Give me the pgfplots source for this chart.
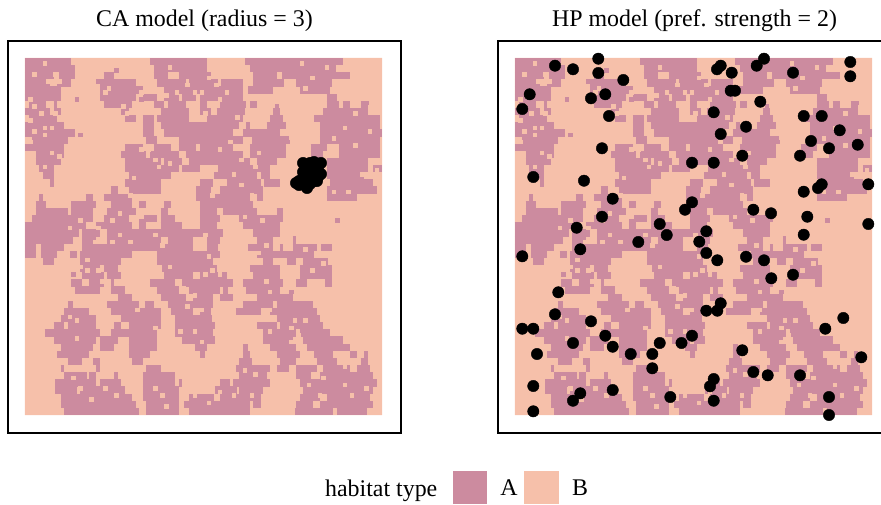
\documentclass[border=0pt]{standalone}
\usepackage{pgfplots}
\usepackage{pgfplotstable}
\usepackage{fontspec}
\setmainfont{Liberation Serif}
\pgfplotsset{compat=1.18}
\definecolor{habA}{HTML}{CC8B9F}
\definecolor{habB}{HTML}{F6C0AA}
% runs of habitat A: start column, row, length (cells from the top left)
\pgfplotstableread{
x y w
0 1 13
35 1 16
61.6 1 27.4
0 3 14
36 3 15
63 3 24
0 5 8
9.5 5 4.5
22 5 3
36 5 4
43 5 9
64 5 6.5
72 5 19
0 7 7
9 7 4
21 7 10
37 7 8
46 7 8
55 7 6
64 7 8.5
76 7 10
0 9 10
21 9 12
39 9 22
62.5 9 7
77 9 8.5
0 11 10
21 11 10
33 11 4
39 11 4
44 11 4
49 11 12
84.5 11 3
1 13 5
8 13 1
22 13 8
36 13 3
40 13 5
49 13 2
54.6 13 7.4
63 13 2
84.5 13 3.5
89 13 2
94 13 2
0 15 7
8 15 2
27 15 2
38 15 8
49 15 3
53.7 15 7.9
69.5 15 2
83.5 15 12.5
1 17 8
28 17 3
33 17 3
37 17 9
51 17 10
68.6 17 3.8
81 17 18.5
0 19 11
33 19 3
38 19 22
62 19 1
67.7 19 5.3
82.6 19 16.9
0 21 14
33 21 3
39 21 19.3
61 21 10.4
82.6 21 17.4
2 23 10
34 23 3
43 23 18
63.5 23 10.5
82.6 23 16.9
0 25 11
28 25 5
36 25 5
43 25 5
49 25 9.3
63 25 10
80 25 4.5
88 25 11.5
3 27 8
27 27 7
35 27 8
45 27 16
63 27 10
80 27 3.6
88 27 11.5
3 29 7
28 29 10
39 29 5
46 29 17
65 29 5.5
84.5 29 11.5
4 31 4
28 31 15
44 31 5
54 31 14.6
84.5 31 11.5
97.5 31 2.5
5 33 3
29 33 12
53 33 12
66 33 2.6
84.5 33 10.5
7 35 1
28 35 10
49 35 3.7
56.5 35 9.5
67 35 4.4
85.5 35 12.1
24 37 2
29 37 9
48 37 4
54.6 37 12.2
84.5 37 14
4 39 1
17 39 2
22 39 8
48 39 15
65 39 1.8
84.5 39 8.5
3 41 3
13 41 7
24 41 6
32 41 2
39 41 2
49 41 15
3 43 9
13 43 6
23 43 8
38 43 2
49 43 4.7
55.5 43 9.5
70.5 43 1.9
2 45 17
22 45 7
32 45 5
38 45 4
49 45 5.6
60 45 12.4
0 47 17
20 47 10
32 47 2
38 47 6
49 47 4.7
61 47 10.4
0 49 15
16 49 5
23 49 32.5
64 49 7.4
0 51 13.5
16 51 4
23 51 15
40 51 7
51 51 3.6
65 51 4.5
75 51 1
0 53 3
4.5 53 6.5
16 53 31
51 53 3
62.5 53 7
71.4 53 1
75 53 6.7
83 53 3
0 55 3
4.5 55 4.5
12.5 55 2
15.5 55 14.5
37 55 17.6
65 55 16
5 57 3
15.5 57 11.5
37 57 15.7
66.8 57 2.7
73.3 57 2.7
78 57 7
15.5 59 5.5
22 59 4
38.5 59 15.2
63 59 8.4
77 59 9
16 61 6
23 61 4
39 61 8
49 61 7.5
64 61 7.4
77 61 9
13 63 3
18 63 4
24 63 1
35 63 7
44 63 14.3
61 63 11.4
76 63 3
84 63 2
14 65 7
24 65 4
37 65 6
46 65 8.6
55.5 65 1.5
62 65 9.4
26 67 4
38 67 7
47 67 5.7
54.6 67 3.7
65 67 10
12 69 1.5
23 69 9
33.5 69 2.5
40 69 12.7
61 69 8.5
70.5 69 10.3
11 71 7
24 71 14
41 71 6
49 71 3
59 71 7
68.6 71 13.1
10 73 10
27 73 11
42 73 10.3
70.5 73 12.1
8 75 3
12 75 8
25 75 2
29 75 9
42 75 11.2
65 75 5.5
71.4 75 12.2
5.5 77 15.5
24 77 13
42 77 10.7
66.8 77 9.2
77 77 8.4
8 79 12
21 79 5
29 79 8
44 79 9.2
66.8 79 8.2
78 79 11
10 81 9
21 81 4
29 81 8
47.5 81 3.5
61 81 1.5
68.6 81 7.4
79 81 12
9 83 9
29 83 6
49 83 1.4
61 83 2
70.5 83 6.5
81 83 5.4
91 83 2
95 83 1
12 85 4
19 85 2
30 85 3
60 85 3.5
71.4 85 4.6
81.7 85 5.6
94 85 2
10 87 1
20 87 1
34 87 4
59 87 9.6
70.5 87 3.5
76 87 5.7
83.6 87 7.4
93 87 3.7
11 89 6.5
18 89 2
25 89 1
33 89 9
60 89 7.7
76 89 4
82.6 89 15
8.5 91 11.5
21 91 6
33 91 9
43 91 1
54.6 91 2.8
58.3 91 10.3
77 91 21.5
8.5 93 6
15.5 93 12.5
33 93 10
53.2 93 6.1
60 93 6.8
78 93 19.6
10 95 20
33 95 10
46 95 7
54.6 95 11.4
77 95 5.6
84.5 95 12.2
10 97 21
34 97 9
44.5 97 18.5
64 97 2
76 97 4.8
82.6 97 15
11 99 21
34 99 9
46 99 17
75.6 99 10.8
87.3 99 8.4
}\runs
% single cells of habitat B inside the runs (column, row)
\pgfplotstableread{
c r
5.6 1.7
2.3 4.8
6.5 6.6
8.7 4.8
9.8 6.2
1.4 11.8
2.8 13.6
4.2 15
7.9 13.6
8.9 15.5
1.4 17.9
2.8 20.2
5.1 19.4
7.9 19.4
5.6 21.6
1.4 23
9.3 27.7
7 26.7
5.1 30.5
23.4 8
22 9.9
27.6 13.6
28.5 15.5
32.2 9.9
40.7 2
45.3 7.1
42.5 9
47.2 9.9
39.7 10.8
34.6 25.3
32.2 25.8
36 28.6
37.9 30.5
40.7 29.5
30.8 33.3
29.9 38.9
34.1 41.7
32.2 44.5
26.6 43.6
24.8 45.4
20 47.3
15.4 45.4
12.6 47.3
37.9 43.6
51.8 5.7
53.7 7.1
57.4 4.8
49.9 9
56.5 9
52.7 12.7
54.6 11.8
50.9 15.5
59.3 16.4
57.4 23
54.6 25.8
62 23
60.2 28.6
65.8 26.7
64 30.5
58.3 32.3
60.2 35.1
52.7 38.9
63 38.9
66.8 45.4
61.1 44.5
77 1.5
80.8 5.2
84.5 2
78.9 8
86.4 22.5
85.4 25.8
89.2 19.3
92.9 15.5
96.7 20.2
92.9 24.9
86.4 37
90.1 37
94.8 32.3
98.5 31.4
24.8 51.5
29.4 51.5
19.6 51.5
26.6 49.6
36.9 49.6
15.4 58
17.3 59.9
20 59.9
17.3 56.2
21 62.7
31.3 55.2
38.8 52.4
40.7 58
42.5 62.7
44.4 64.6
47.2 66.5
45.3 69.3
49.1 70.2
12.6 72
14.5 73.9
14.5 78.6
31.3 70.2
36 75.8
43.5 76.7
47.2 76.7
49.1 79.5
13.6 89.8
15.4 92.6
18.2 95.4
22.9 92.6
25.7 94.5
36 92.6
38.8 94.5
39.7 97.3
47.7 94.5
50.9 49.6
51.8 55.2
50.4 60.8
52.7 59.9
54.6 60.8
67.7 52.4
65.8 54.3
78 53.4
80.8 51.5
80.8 59
83.6 57.1
67.7 62.7
68.6 65.5
68.6 70.2
78.9 73
75.2 73.9
68.6 76.7
74.2 75.8
76.1 77.7
74.2 79.5
78 83.3
89.2 86.1
89.2 91.7
83.6 89.8
79.8 91.7
82.6 94.5
91.1 94.5
95.7 92.6
63 94.5
58.3 94.5
54.6 93.6
51.8 96.4
64 88
61.1 87
}\holes
% single cells of habitat A outside the runs (column, row)
\pgfplotstableread{
c r
25 3.8
20.5 6.6
13.6 60.5
12.6 68
70.5 13.6
95.7 12.2
74.2 65.5
32 11.5
14 11
15 21
50.5 40
73 23
87 45
}\specks
% points of the CA model, in image position
\pgfplotstableread{
px py
303 163
310 163
314 162
321 163
307 167
314 167
318 170
310 170
303 172
307 174
314 174
321 174
318 177
303 178
310 178
314 181
299 181
296 183
303 184
310 184
307 188
299 185
317 181
}\caPts
% points of the HP model, in image position
\pgfplotstableread{
px py
598.3 58.7
555 65.7
573 69.3
598.3 73
623.3 80
529.7 94.3
605.3 94.3
591 98.3
522.3 109
609 116
602 148.3
533.3 177
584 180.7
612.7 198.7
602 216.7
576.7 227.7
659.7 224
666.7 235
638.3 242
764 58.7
850.3 62
756.7 65.7
720.7 65.7
717 69.3
731.7 72.7
793 72.7
850.3 76.3
730.7 90.7
735 90.7
760.3 101.7
713.7 112.3
803.7 116
821.7 116
746 126.7
839.7 130.3
720.7 134
811 141
829 148.3
857.7 144.7
742.3 155.7
800 155.7
692 162.7
713.7 162.7
868.3 184.3
821.7 184.3
818 188
803.7 191.7
692 202.3
685 209.7
753.3 209.7
771 213.3
807.3 216.7
868.3 224
706.3 231.3
803.7 234.7
699.3 241.7
580.3 249.3
522.3 256.3
558.3 292.3
555 314.3
591 321.3
522.3 328.7
533.3 328.7
605.3 335.7
573 343
612.7 346.7
659.7 343
681.5 343
692 335.7
537 354
630.7 354
652.3 354
652.3 368.3
533.3 386
612.7 390
580.3 393.3
573 400.7
670.3 397
533.3 411.3
706.3 253
746 256.7
764 260.3
717.3 260.3
771.3 278.3
793 274.7
720.7 303.3
717.3 310.7
706.3 310.7
843.3 318
825.3 328.7
742.3 350.3
861.3 357.3
753.3 372
767.7 375.3
800 375.3
713.7 379
710 386.3
829 397
713.7 400.7
829 415
}\hpPts
\pgfplotsset{panel/.style={
  scale only axis, width=393pt, height=392pt,
  xmin=-4.76, xmax=105.32, ymin=-4.76, ymax=105.04, y dir=reverse,
  xtick=\empty, ytick=\empty, axis line style={line width=1.7pt, black},
  clip=false, anchor=south west,
  title style={font=\fontsize{23.9}{24}\selectfont, yshift=0pt},
}}
\newcommand{\habitat}{%
  \addplot[draw=none, fill=habB] coordinates {(0,0) (100,0) (100,100) (0,100) (0,0)};
  \addplot[draw=none, mark=none, forget plot,
    error bars/.cd, x dir=plus, x explicit, error mark=none,
    error bar style={line width=7.3pt, color=habA}]
    table[x=x, y=y, x error=w] {\runs};
  \addplot[only marks, mark=square*, mark size=1.8pt, habB, mark options={draw=none, fill=habB}]
    table[x expr={floor(\thisrow{c})+0.5}, y expr={floor(\thisrow{r})+0.5}] {\holes};
  \addplot[only marks, mark=square*, mark size=1.8pt, habA, mark options={draw=none, fill=habA}]
    table[x expr={floor(\thisrow{c})+0.5}, y expr={floor(\thisrow{r})+0.5}] {\specks};
}
\begin{document}
\begin{tikzpicture}[x=1pt,y=1pt]
\path[use as bounding box] (0,0) rectangle (881,504);
\begin{axis}[panel, at={(8pt,71pt)}, title={CA model (radius = 3)}]
\habitat
\addplot[only marks, mark=*, mark size=5.7pt, black]
  table[x expr=(\thisrow{px}-25)/3.57, y expr=(\thisrow{py}-58)/3.57] {\caPts};
\end{axis}
\begin{axis}[panel, at={(498pt,71pt)}, title={HP model (pref. strength = 2)}]
\habitat
\addplot[only marks, mark=*, mark size=5.7pt, black]
  table[x expr=(\thisrow{px}-515)/3.57, y expr=(\thisrow{py}-58)/3.57] {\hpPts};
\end{axis}
\fill[habA] (452.7,0) rectangle (487.3,33);
\fill[habB] (524.3,0) rectangle (559,33);
\node[anchor=base east, inner sep=0pt, font=\fontsize{23.9}{24}\selectfont] at (437.5,7.3) {habitat type};
\node[anchor=base, inner sep=0pt, font=\fontsize{23.9}{24}\selectfont] at (509,9) {A};
\node[anchor=base, inner sep=0pt, font=\fontsize{23.9}{24}\selectfont] at (580,9) {B};
\end{tikzpicture}
\end{document}
